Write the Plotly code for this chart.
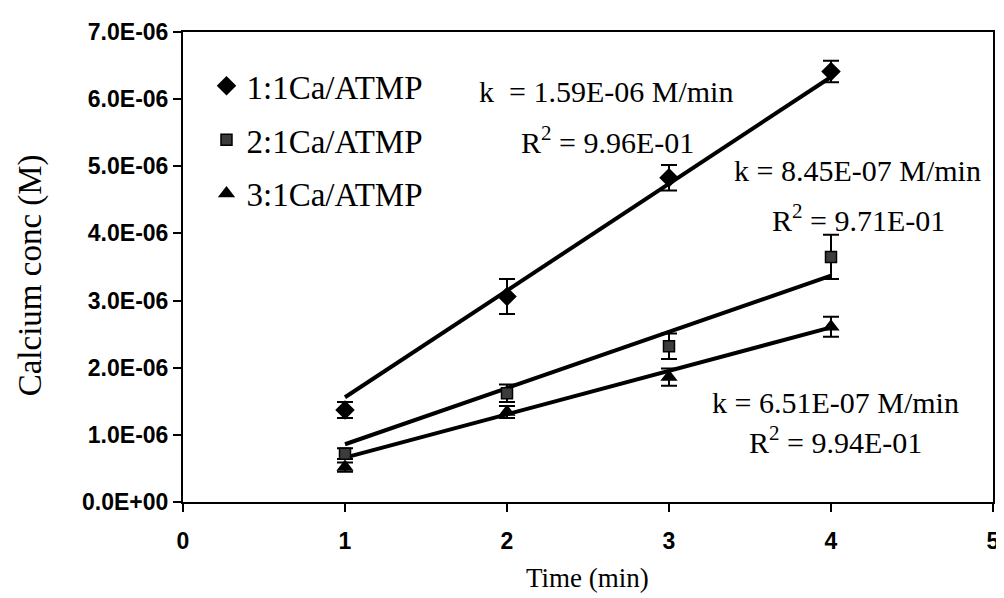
import plotly.graph_objects as go

# ---- data ----
time_min = [1, 2, 3, 4]

ca_1to1 = [1.37e-6, 3.06e-6, 4.83e-6, 6.41e-6]
err_1to1 = [0.12e-6, 0.26e-6, 0.19e-6, 0.16e-6]

ca_2to1 = [0.72e-6, 1.62e-6, 2.32e-6, 3.65e-6]
err_2to1 = [0.08e-6, 0.13e-6, 0.19e-6, 0.33e-6]

ca_3to1 = [0.52e-6, 1.34e-6, 1.86e-6, 2.61e-6]
err_3to1 = [0.07e-6, 0.09e-6, 0.13e-6, 0.15e-6]

# fitted trend lines (end points)
trend_x = [1, 4]
trend_1to1 = [1.56e-6, 6.33e-6]
trend_2to1 = [0.86e-6, 3.37e-6]
trend_3to1 = [0.66e-6, 2.60e-6]

series_names = ["1:1Ca/ATMP", "2:1Ca/ATMP", "3:1Ca/ATMP"]

y_tickvals = [0, 1e-6, 2e-6, 3e-6, 4e-6, 5e-6, 6e-6, 7e-6]
y_ticktext = ["0.0E+00", "1.0E-06", "2.0E-06", "3.0E-06",
              "4.0E-06", "5.0E-06", "6.0E-06", "7.0E-06"]
x_tickvals = [0, 1, 2, 3, 4, 5]

fit_labels = [
    ("k  = 1.59E-06 M/min", "R<sup>2</sup> = 9.96E-01"),
    ("k = 8.45E-07 M/min", "R<sup>2</sup> = 9.71E-01"),
    ("k = 6.51E-07 M/min", "R<sup>2</sup> = 9.94E-01"),
]

serif = "Liberation Serif, Times New Roman, serif"
sans = "Liberation Sans, Arial, sans-serif"

fig = go.Figure()

# trend lines
for ty in [trend_1to1, trend_2to1, trend_3to1]:
    fig.add_trace(go.Scatter(x=trend_x, y=ty, mode="lines",
                             line=dict(color="black", width=4),
                             showlegend=False, hoverinfo="skip"))

markers = [
    dict(symbol="diamond", size=15, color="black"),
    dict(symbol="square", size=11, color="#3c3c3c", line=dict(color="black", width=1.5)),
    dict(symbol="triangle-up", size=15, color="black"),
]
for i, (yv, ev) in enumerate([(ca_1to1, err_1to1), (ca_2to1, err_2to1), (ca_3to1, err_3to1)]):
    fig.add_trace(go.Scatter(
        x=time_min, y=yv, mode="markers", name=series_names[i],
        marker=markers[i],
        error_y=dict(type="data", array=ev, visible=True,
                     color="black", thickness=2, width=8),
        legendgroup=f"g{i}",
    ))

# page body has an 8px margin: figure is 996x590, plot area lands at 183..1000 x 32..502
fig.update_layout(
    width=996, height=590,
    margin=dict(l=175, r=4, t=24, b=96),
    paper_bgcolor="white", plot_bgcolor="white",
    showlegend=True,
    legend=dict(x=0.029, y=0.945, xanchor="left", yanchor="top",
                font=dict(family=serif, size=33, color="black"),
                bgcolor="rgba(0,0,0,0)", traceorder="grouped",
                tracegroupgap=8, itemwidth=30),
    xaxis=dict(range=[0, 5], tickvals=x_tickvals, ticks="outside", ticklen=8,
               tickwidth=2, tickcolor="black", showline=True, linewidth=2,
               linecolor="black", mirror=True, showgrid=False, zeroline=False,
               ticklabelstandoff=9, ticklabeloverflow="allow",
               tickfont=dict(family=sans, size=23, color="black", weight="bold")),
    yaxis=dict(range=[0, 7e-6], tickvals=y_tickvals, ticktext=y_ticktext,
               ticks="outside", ticklen=8, tickwidth=2, tickcolor="black",
               showline=True, linewidth=2, linecolor="black", mirror=True,
               showgrid=False, zeroline=False,
               tickfont=dict(family=sans, size=23, color="black", weight="bold")),
)

def px(xp):
    return (xp - 183) / 817

def py(yp):
    return (502 - yp) / 470

# axis titles
fig.add_annotation(text="Time (min)", xref="paper", yref="paper",
                   x=px(591), y=py(578), xanchor="center", yanchor="middle",
                   showarrow=False, font=dict(family=serif, size=27, color="black"))
fig.add_annotation(text="Calcium conc (M)", xref="paper", yref="paper",
                   x=px(29), y=py(275), xanchor="center", yanchor="middle",
                   textangle=-90, showarrow=False,
                   font=dict(family=serif, size=33, color="black"))

# fit annotations
ann_pos = [((480, 92), (522, 140)), ((737, 170), (775, 218)), ((715, 402), (752, 440))]
for (k_txt, r_txt), ((kx, ky), (rx, ry)) in zip(fit_labels, ann_pos):
    fig.add_annotation(text=k_txt, xref="paper", yref="paper", x=px(kx), y=py(ky),
                       xanchor="left", yanchor="middle", showarrow=False,
                       font=dict(family=serif, size=30, color="black"))
    fig.add_annotation(text=r_txt, xref="paper", yref="paper", x=px(rx), y=py(ry),
                       xanchor="left", yanchor="middle", showarrow=False,
                       font=dict(family=serif, size=30, color="black"))

fig.write_html("out.html")
